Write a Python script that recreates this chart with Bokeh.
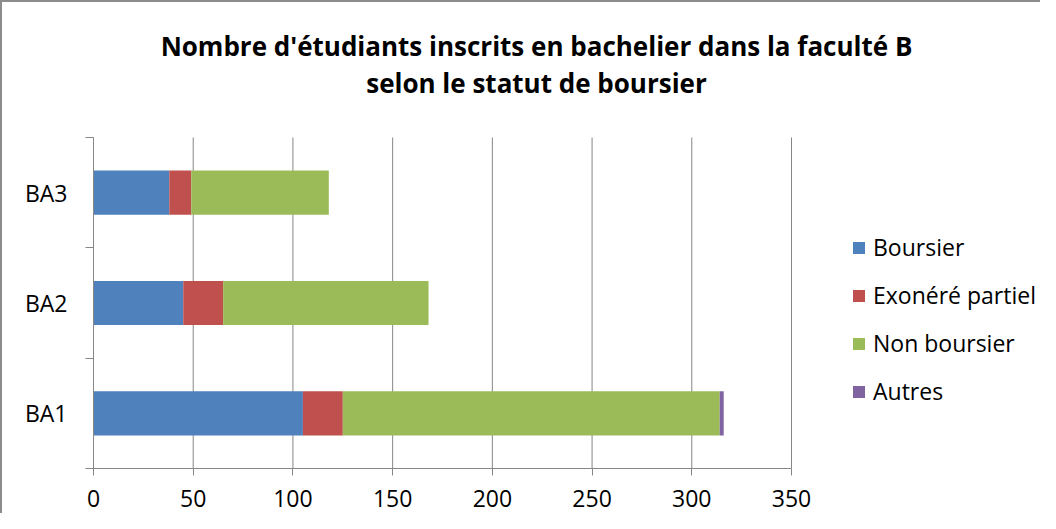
from bokeh.plotting import figure
from bokeh.models import (ColumnDataSource, FixedTicker, Label, Legend, LegendItem,
                          Range1d)
from bokeh.embed import file_html
from bokeh.resources import INLINE

categories = ["BA1", "BA2", "BA3"]
series = ["Boursier", "Exonéré partiel", "Non boursier", "Autres"]
boursier = [105, 45, 38]
exonere = [20, 20, 11]
non_boursier = [189, 103, 69]
autres = [2, 0, 0]
colors = ["#4F81BD", "#C0504D", "#9BBB59", "#8064A2"]
x_ticks = [0, 50, 100, 150, 200, 250, 300, 350]
x_max = 350
title_lines = ["Nombre d'étudiants inscrits en bachelier dans la faculté B",
               "selon le statut de boursier"]

FONT = "Open Sans"
W, H = 1040, 513
L, B = 91, 47
# plot area of the chart itself (pixels): 698 px wide for 0..350, 110.33 px per category
PX_PER_UNIT = 698 / x_max
PX_PER_CAT = 331 / len(categories)
frame_w = W - L
frame_h = H - B
x_end = frame_w / PX_PER_UNIT
y_end = frame_h / PX_PER_CAT

p = figure(width=W, height=H, output_backend="svg", toolbar_location=None,
           x_range=Range1d(0, x_end), y_range=Range1d(0, y_end),
           min_border_left=L, min_border_right=0, min_border_top=0,
           min_border_bottom=B, title=None)
p.outline_line_color = None
p.background_fill_color = "white"
p.border_fill_color = "white"

ncat = len(categories)
ypos = [i + 0.5 for i in range(ncat)]

# vertical grid lines, limited to the chart area
p.segment(x0=x_ticks, x1=x_ticks, y0=[0] * len(x_ticks), y1=[ncat] * len(x_ticks),
          line_color="#868686", line_width=1)

vals = [boursier, exonere, non_boursier, autres]
left = [0] * ncat
renderers = []
for name, v, c in zip(series, vals, colors):
    right = [a + b for a, b in zip(left, v)]
    src = ColumnDataSource(dict(y=ypos, left=left, right=right))
    r = p.hbar(y="y", left="left", right="right", height=0.4, source=src,
               fill_color=c, line_color=None)
    renderers.append((name, r))
    left = right

# x axis
p.xaxis.ticker = FixedTicker(ticks=x_ticks)
p.xaxis.bounds = (0, x_max)
p.xaxis.axis_line_color = "#868686"
p.xaxis.major_tick_line_color = "#868686"
p.xaxis.major_tick_out = 7
p.xaxis.major_tick_in = 0
p.xaxis.minor_tick_line_color = None
p.xaxis.major_label_text_font = FONT
p.xaxis.major_label_text_font_size = "23px"
p.xaxis.major_label_text_color = "black"
p.xaxis.major_label_standoff = 14

# y axis
p.yaxis.ticker = FixedTicker(ticks=ypos, minor_ticks=list(range(ncat + 1)))
p.yaxis.bounds = (0, ncat)
p.yaxis.major_label_overrides = {y: c for y, c in zip(ypos, categories)}
p.yaxis.axis_line_color = "#868686"
p.yaxis.major_tick_line_color = None
p.yaxis.major_tick_out = 0
p.yaxis.major_tick_in = 0
p.yaxis.minor_tick_line_color = "#868686"
p.yaxis.minor_tick_out = 8
p.yaxis.minor_tick_in = 0
p.yaxis.major_label_text_font = FONT
p.yaxis.major_label_text_font_size = "23px"
p.yaxis.major_label_text_color = "black"
p.yaxis.major_label_standoff = 18

p.xgrid.grid_line_color = None
p.ygrid.grid_line_color = None

legend = Legend(items=[LegendItem(label=n, renderers=[r]) for n, r in renderers],
                location=(758, 61), orientation="vertical")
legend.border_line_color = None
legend.background_fill_alpha = 0
legend.padding = 0
legend.margin = 0
legend.glyph_width = 15
legend.glyph_height = 15
legend.label_standoff = 7
legend.label_height = 31
legend.spacing = 16
legend.label_text_font = FONT
legend.label_text_font_size = "23px"
legend.label_text_color = "black"
p.add_layout(legend, "center")

for txt, y in zip(title_lines, [423, 386]):
    p.add_layout(Label(x=443, y=y, x_units="screen", y_units="screen", text=txt,
                       text_align="center", text_baseline="alphabetic",
                       text_font=FONT, text_font_style="bold",
                       text_font_size="26px", text_color="black"))

p.styles = {"border-left": "2px solid #8c8c8c", "border-top": "2px solid #8c8c8c"}

open("out.html", "w").write(file_html(p, INLINE))
